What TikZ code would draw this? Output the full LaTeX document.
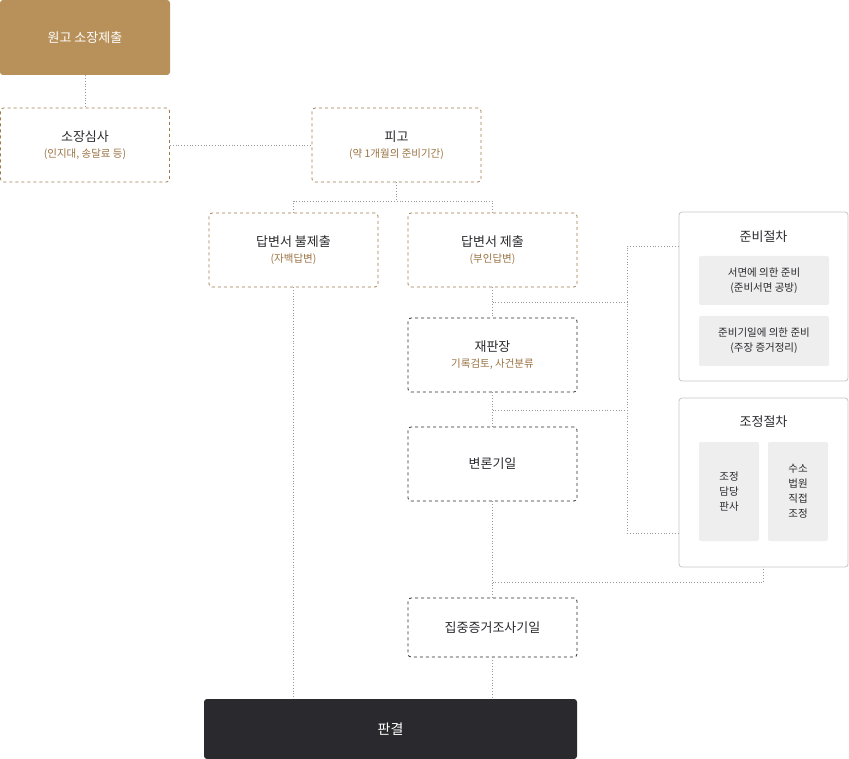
\documentclass[tikz,border=0pt]{standalone}
\usepackage{fontspec}
\setmainfont{Noto Sans CJK KR}
\usetikzlibrary{positioning}
\definecolor{gold}{HTML}{B8915A}
\definecolor{goldtxt}{HTML}{9A7242}
\definecolor{ink}{HTML}{2A2A2E}
\definecolor{panel}{HTML}{EEEEEE}
\tikzstyle{brownbox} = [draw=gold!85!black, dashed, rounded corners=3pt, line width=0.8pt, minimum width=169pt, minimum height=74pt, align=center, font=\fontsize{13}{17}\selectfont, text=ink]
\tikzstyle{darkbox} = [brownbox, draw=ink]
\tikzstyle{link} = [draw=gray!80, dotted, line width=0.8pt]
\newcommand{\subline}[1]{\\[-1pt]{\fontsize{10.5}{13}\selectfont\color{goldtxt}#1}}

\begin{document}
\begin{tikzpicture}[x=1pt,y=-1pt,
  every node/.style={inner sep=0pt},
  greybox/.style={fill=panel, rounded corners=2pt, align=center, font=\fontsize{10.5}{15}\selectfont, text=ink},
  framebox/.style={draw=gray!45, rounded corners=3pt, line width=0.8pt, minimum width=169pt, minimum height=169pt},
]
\useasboundingbox (0,0) rectangle (849,759);
\node[fill=gold, rounded corners=3pt, minimum width=170pt, minimum height=75pt, text=white, font=\fontsize{13}{17}\selectfont] (plaintiff) at (85,37.5) {원고 소장제출};
\node[brownbox] (review) at (85,145) {소장심사\subline{(인지대, 송달료 등)}};
\node[brownbox] (defendant) at (396.5,145) {피고\subline{(약 1개월의 준비기간)}};
\node[brownbox] (noanswer) at (293.5,250) {답변서 불제출\subline{(자백답변)}};
\node[brownbox] (answer) at (492.5,250) {답변서 제출\subline{(부인답변)}};
\node[darkbox] (judge) at (492.5,355) {재판장\subline{기록검토, 사건분류}};
\node[darkbox] (hearing) at (492.5,464) {변론기일};
\node[darkbox, minimum height=59pt] (evidence) at (492.5,627.5) {집중증거조사기일};
\node[fill=ink, rounded corners=3pt, minimum width=373pt, minimum height=60pt, text=white, font=\fontsize{14}{17}\selectfont] (verdict) at (390.5,729) {판결};
% preparation panel
\node[framebox] (prep) at (763.5,296.5) {};
\node[font=\fontsize{13}{17}\selectfont, text=ink] (preptitle) at (763.5,237) {준비절차};
\node[greybox, minimum width=130pt, minimum height=49pt] (prepa) at (764,280.5) {서면에 의한 준비\\(준비서면 공방)};
\node[greybox, minimum width=130pt, minimum height=50pt] (prepb) at (764,341) {준비기일에 의한 준비\\(주장 증거정리)};
% mediation panel
\node[framebox] (med) at (763.5,482.5) {};
\node[font=\fontsize{13}{17}\selectfont, text=ink] (medtitle) at (763.5,422) {조정절차};
\node[greybox, minimum width=60pt, minimum height=99pt] (meda) at (729,491.5) {조정\\담당\\판사};
\node[greybox, minimum width=60pt, minimum height=99pt] (medb) at (798,491.5) {수소\\법원\\직접\\조정};
% connectors
\coordinate (split) at (396.5,201);
\coordinate (rail) at (627,302);
\draw[link] (plaintiff) -- (review);
\draw[link] (review) -- (defendant);
\draw[link] (defendant) -- (split);
\draw[link] (noanswer.north) |- (split) -| (answer.north);
\draw[link] (answer) -- (judge);
\draw[link] (judge) -- (hearing);
\draw[link] (hearing) -- (evidence);
\draw[link] (evidence) -- (evidence |- verdict.north);
\draw[link] (noanswer) -- (noanswer |- verdict.north);
\draw[link] (492.5,302) -- (rail);
\draw[link] (492.5,410) -- (627,410);
\draw[link] (prep.west |- 0,246) -| (627,533) -- (med.west |- 0,533);
\draw[link] (492.5,582) -| (med.south);
\end{tikzpicture}
\end{document}
